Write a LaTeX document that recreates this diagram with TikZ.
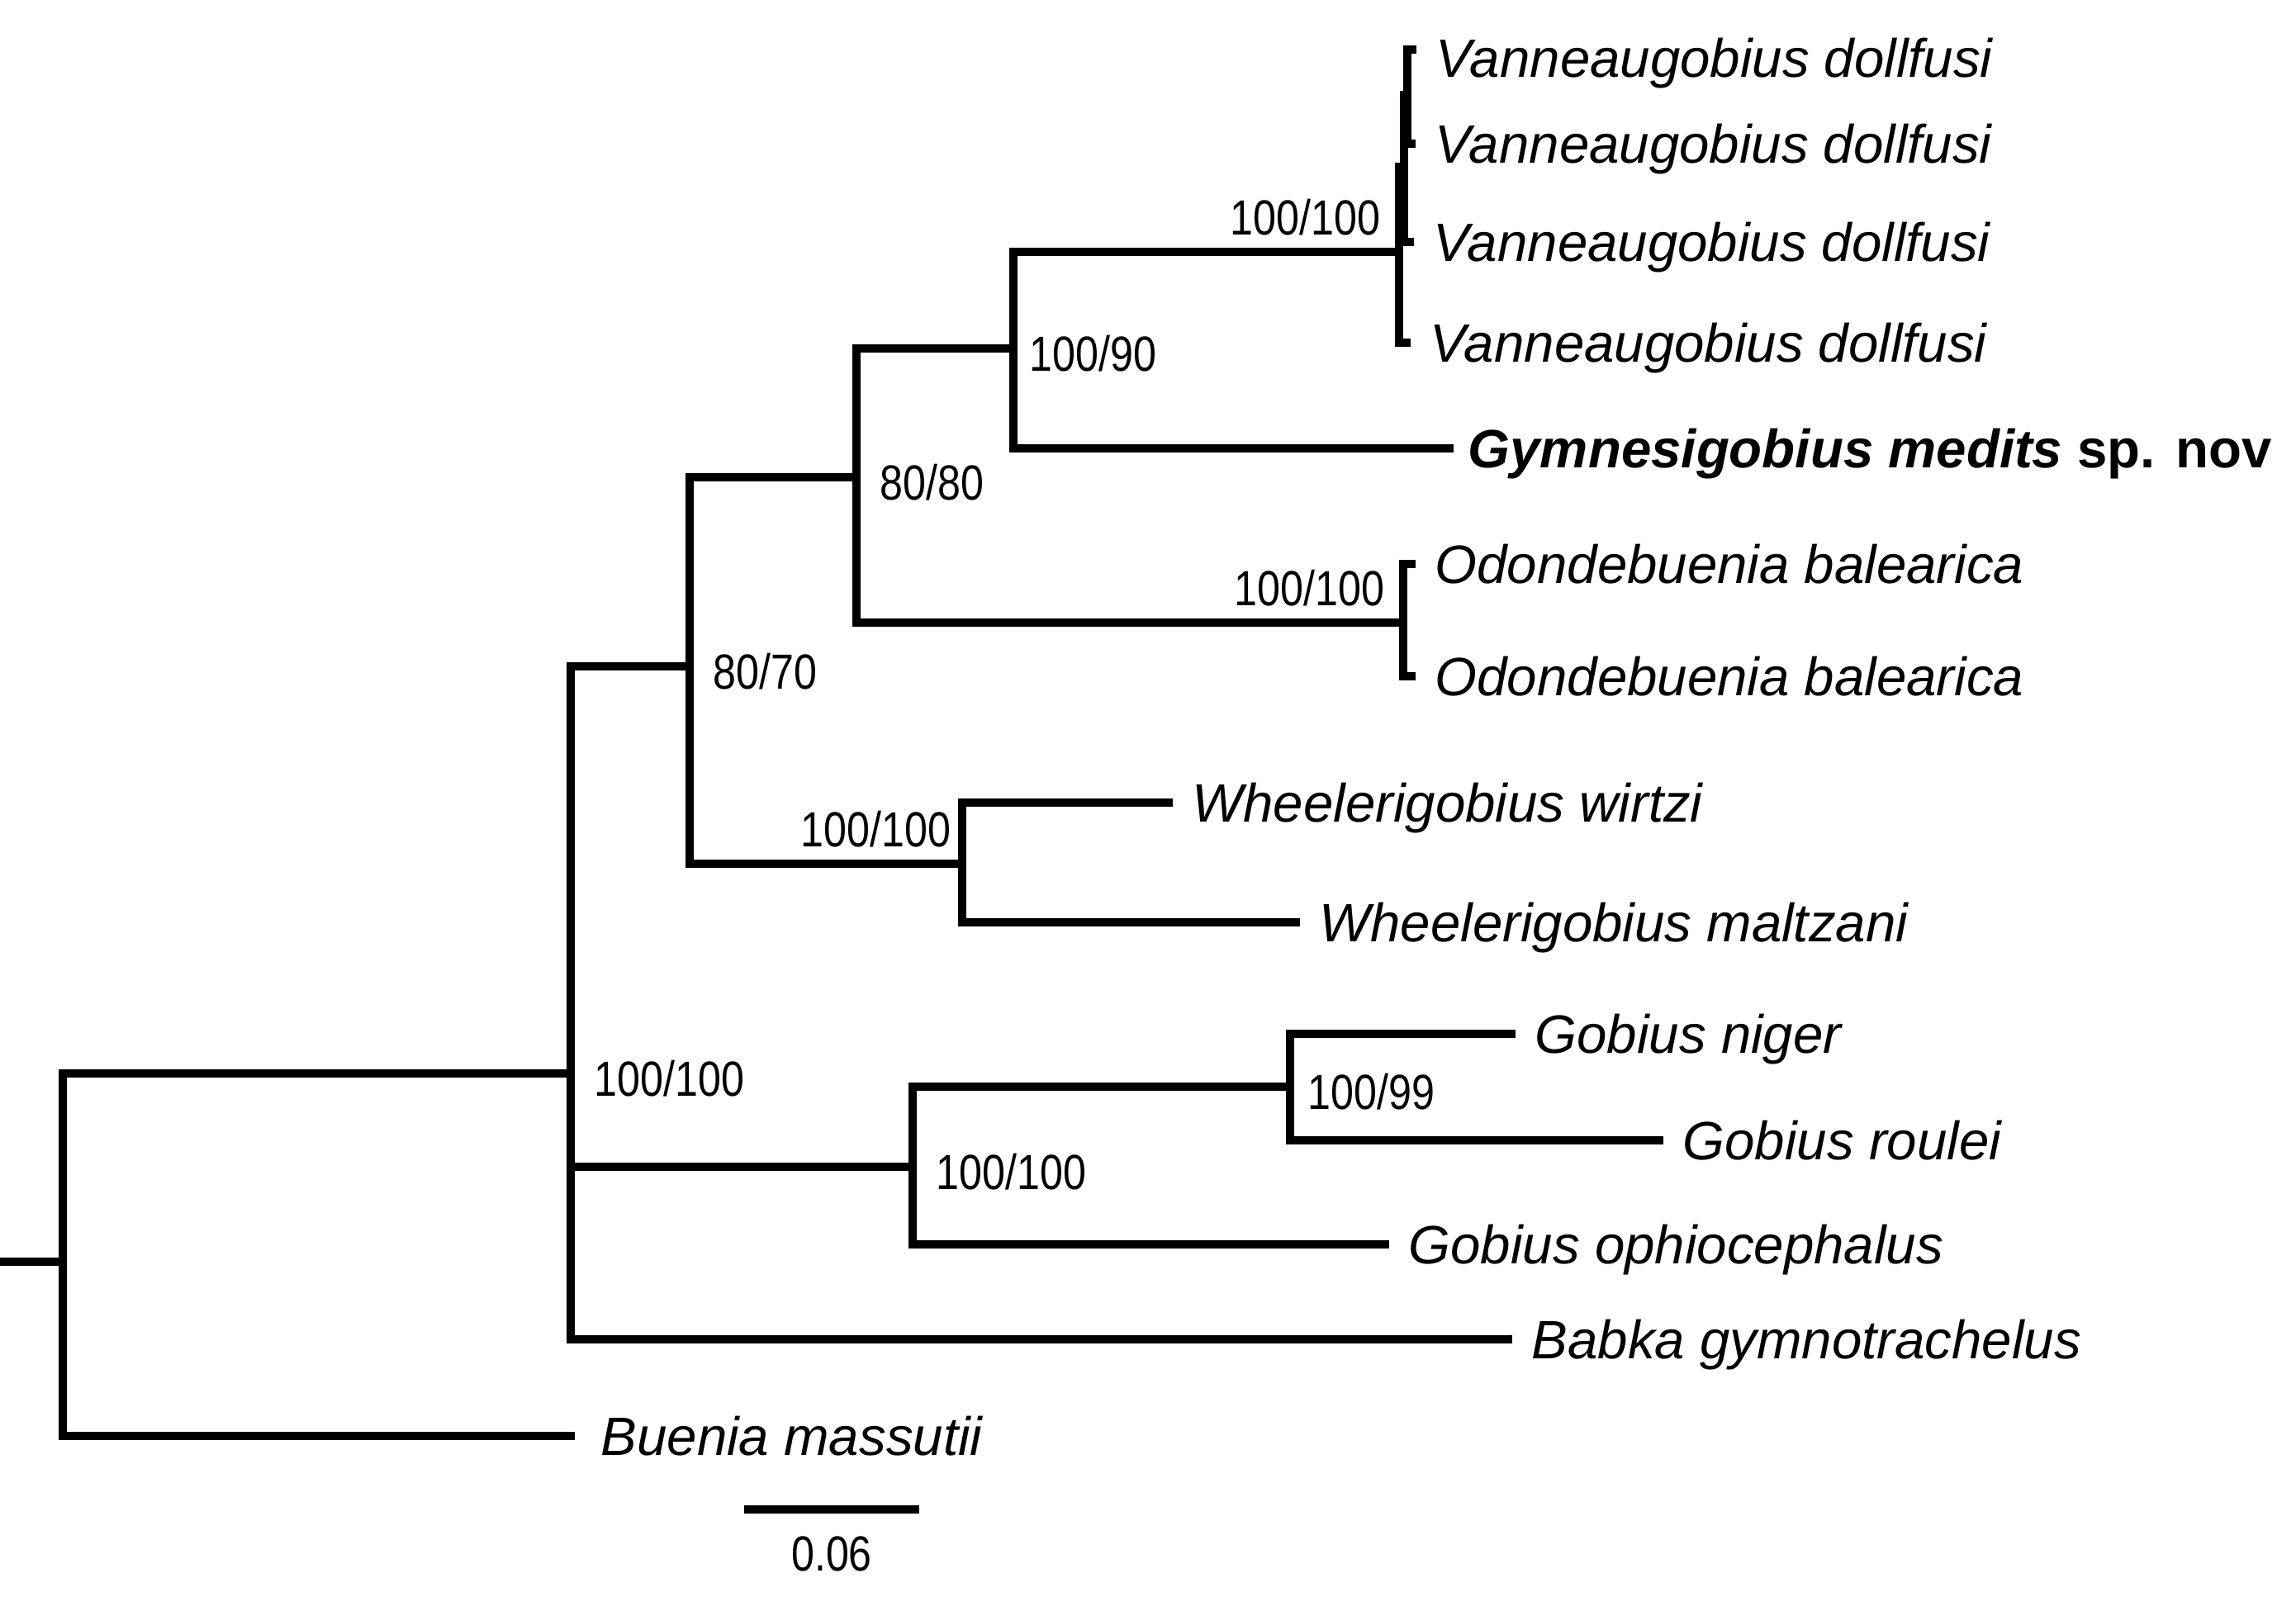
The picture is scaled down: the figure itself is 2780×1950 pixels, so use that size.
\documentclass[tikz,border=0pt]{standalone}
\usepackage{fontspec}
\setmainfont{Liberation Sans}
\newfontfamily\bootfont[FakeStretch=0.84]{Liberation Sans}
\usetikzlibrary{positioning}

\tikzset{
  branch/.style={line width=2.6pt, line cap=rect, to path={|- (\tikztotarget)}},
  taxon/.style={inner sep=0pt, text height=13.3pt, text depth=0pt,
    font=\fontsize{18.6}{22}\selectfont\itshape},
  boot/.style={inner sep=0pt, text height=12.2pt, text depth=0pt,
    font=\bootfont\fontsize{17}{20}\selectfont},
  supR/.style={boot, anchor=west, xshift=0.28cm, yshift=-0.06cm},
  supL/.style={boot, anchor=south east, xshift=-0.22cm, yshift=0.2cm}
}

\begin{document}
\begin{tikzpicture}[x=0.01cm, y=-0.01cm]
  \fill[white] (0,0) rectangle (2780,1950);
  \useasboundingbox (0,0) rectangle (2780,1950);
  % internal nodes
  \coordinate (stub) at (0,1528);
  \coordinate (nRoot) at (76,1528);
  \coordinate (nIn) at (691,1300);
  \coordinate (nD) at (835,807);
  \coordinate (nE) at (1037,578);
  \coordinate (nF) at (1227,422);
  \coordinate (nV) at (1694,305);
  \coordinate (nB) at (1700,202);
  \coordinate (nC) at (1704,115);
  \coordinate (nO) at (1699,754);
  \coordinate (nW) at (1165,1046);
  \coordinate (nG) at (1105,1413);
  \coordinate (nN) at (1562,1316);
  % tips
  \coordinate (tV1) at (1710,60);
  \coordinate (tV2) at (1709,174);
  \coordinate (tV3) at (1707,293);
  \coordinate (tV4) at (1703,415);
  \coordinate (tGym) at (1755,543);
  \coordinate (tO1) at (1709,683);
  \coordinate (tO2) at (1709,819);
  \coordinate (tWw) at (1415,972);
  \coordinate (tWm) at (1569,1117);
  \coordinate (tGn) at (1830,1252);
  \coordinate (tGr) at (2009,1381);
  \coordinate (tGo) at (1677,1507);
  \coordinate (tBab) at (1826,1622);
  \coordinate (tBue) at (691,1739);

  % branches
  \draw[branch] (stub) -- (nRoot);
  \draw[branch] (nRoot) edge (nIn) edge (tBue);
  \draw[branch] (nIn) edge (nD) edge (nG) edge (tBab);
  \draw[branch] (nD) edge (nE) edge (nW);
  \draw[branch] (nE) edge (nF) edge (nO);
  \draw[branch] (nF) edge (nV) edge (tGym);
  \draw[branch] (nV) edge (nB) edge (tV4);
  \draw[branch] (nB) edge (nC) edge (tV3);
  \draw[branch] (nC) edge (tV1) edge (tV2);
  \draw[branch] (nO) edge (tO1) edge (tO2);
  \draw[branch] (nW) edge (tWw) edge (tWm);
  \draw[branch] (nG) edge (nN) edge (tGo);
  \draw[branch] (nN) edge (tGn) edge (tGr);

  % taxa
  \foreach \t/\name in {tV2/Vanneaugobius dollfusi,
      tV3/Vanneaugobius dollfusi, tV4/Vanneaugobius dollfusi,
      tO1/Odondebuenia balearica, tO2/Odondebuenia balearica,
      tWw/Wheelerigobius wirtzi, tWm/Wheelerigobius maltzani,
      tGn/Gobius niger, tGr/Gobius roulei, tGo/Gobius ophiocephalus,
      tBab/Babka gymnotrachelus}
    \node[taxon, right=0.28cm of \t] (l\t) {\name};
  \node[taxon, right=0.28cm of tV1, yshift=-0.1cm] (ltV1) {Vanneaugobius dollfusi};
  \node[taxon, right=0.36cm of tBue] (ltBue) {Buenia massutii};
  \node[taxon, font=\fontsize{18.6}{22}\selectfont\bfseries, right=0.22cm of tGym] (ltGym)
    {\textit{Gymnesigobius medits} sp. nov};

  % support values
  \node[supR] (bIn) at (nIn) {100/100};
  \node[supR] (bD) at (nD) {80/70};
  \node[supR] (bE) at (nE) {80/80};
  \node[supR, xshift=-0.09cm] (bF) at (nF) {100/90};
  \node[supR] (bG) at (nG) {100/100};
  \node[supR, xshift=-0.07cm] (bN) at (nN) {100/99};
  \node[supL] (bV) at (nV) {100/100};
  \node[supL] (bO) at (nO) {100/100};
  \node[supL, xshift=0.09cm] (bW) at (nW) {100/100};

  % scale bar
  \coordinate (sbL) at (901,1828);
  \coordinate (sbR) at (1113,1828);
  \draw[line width=2.6pt] (sbL) -- node[boot, below=0.27cm] (sbLab) {0.06} (sbR);
\end{tikzpicture}
\end{document}
